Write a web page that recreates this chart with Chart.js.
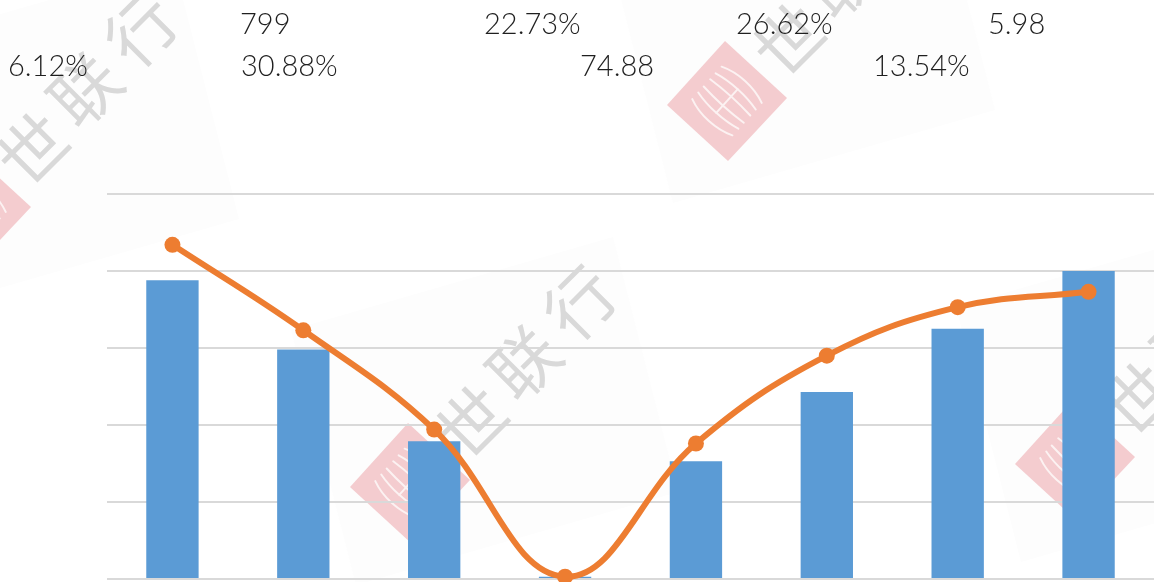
<!DOCTYPE html>
<html><head><meta charset="utf-8">
<style>html,body{margin:0;padding:0;background:#fff;overflow:hidden}#w{position:absolute;left:0;top:0;width:1154px;height:582px;overflow:hidden}</style>
<script src="https://cdn.jsdelivr.net/npm/chart.js@4"></script>
</head><body><div id="w"><canvas id="c" style="display:block" width="1162" height="587"></canvas></div>
<script>
const categories = ['1','2','3','4','5','6','7','8'];
const barValues = [3.88,2.98,1.79,0.03,1.53,2.43,3.25,4.0];
const lineValues = [4.34,3.23,1.94,0.03,1.76,2.90,3.53,3.73];
const topLabels = ['799','22.73%','26.62%','5.98','6.12%','30.88%','74.88','13.54%'];
const topLabelSpots = [[240,34],[484,34],[736,34],[988,34],[8,76],[241,76],[580,76],[873,76]];
const watermarkChars = ['世','联','行'];
const watermarkCharOffsets = [[62,-61],[114,-120],[170,-180]];
const watermarkCenters = [[-29,210],[410,483],[727,101],[1075,460]];

const watermark = {
  id:'watermark',
  beforeDraw(chart){
    const ctx = chart.ctx;
    ctx.save();
    ctx.fillStyle='#fff';ctx.fillRect(0,0,chart.width,chart.height);
    for(const [cx,cy] of watermarkCenters){
      ctx.save();ctx.translate(cx,cy);
      ctx.fillStyle='#fdfdfd';
      ctx.beginPath();ctx.moveTo(-54,102);ctx.lineTo(268,9);ctx.lineTo(203,-246);ctx.lineTo(-119,-153);ctx.closePath();ctx.fill();
      ctx.fillStyle='#f4cccf';
      ctx.beginPath();ctx.moveTo(-60,4);ctx.lineTo(-2,-60);ctx.lineTo(60,-3);ctx.lineTo(1,60);ctx.closePath();ctx.fill();
      ctx.save();ctx.rotate(Math.PI/4-0.05);
      ctx.strokeStyle='#fcf2f2';ctx.lineWidth=2;ctx.lineCap='round';
      for(const ry of [27,16,6]){
        ctx.beginPath();ctx.ellipse(0,0,46,ry,0,Math.PI*1.3,Math.PI*1.7);ctx.stroke();
        ctx.beginPath();ctx.ellipse(0,0,46,ry,0,Math.PI*0.3,Math.PI*0.7);ctx.stroke();
      }
      ctx.beginPath();ctx.moveTo(0,-16);ctx.lineTo(0,16);ctx.stroke();
      ctx.restore();
      ctx.fillStyle='#d9d9d9';
      ctx.font='400 68px "Noto Sans CJK SC"';ctx.textAlign='center';ctx.textBaseline='middle';
      watermarkChars.forEach((ch,i)=>{
        ctx.save();ctx.translate(watermarkCharOffsets[i][0],watermarkCharOffsets[i][1]);ctx.rotate(-Math.PI/4);ctx.fillText(ch,0,0);ctx.restore();
      });
      ctx.restore();
    }
    ctx.restore();
  }
};
const floatingLabels = {
  id:'floatingLabels',
  afterDraw(chart){
    const ctx=chart.ctx;ctx.save();
    ctx.fillStyle='#1f1f1f';ctx.font='300 29px Lato';ctx.textAlign='left';ctx.textBaseline='alphabetic';
    topLabels.forEach((t,i)=>ctx.fillText(t,topLabelSpots[i][0],topLabelSpots[i][1]));
    ctx.restore();
  }
};
new Chart(document.getElementById('c'),{
  data:{labels:categories,datasets:[
    {type:'line',data:lineValues,borderColor:'#ED7D31',backgroundColor:'#ED7D31',borderWidth:6,tension:0.4,pointRadius:8,pointHoverRadius:8,pointBorderWidth:0,clip:false,order:1},
    {type:'bar',data:barValues,backgroundColor:'#5B9BD5',barPercentage:0.4,categoryPercentage:1,order:2}
  ]},
  options:{responsive:false,animation:false,
    layout:{padding:{left:107,right:0,top:194,bottom:3}},
    plugins:{legend:{display:false},title:{display:false},tooltip:{enabled:false}},
    scales:{
      x:{display:false,offset:true},
      y:{min:0,max:5,ticks:{display:false,stepSize:1},grid:{color:'#d9d9d9',lineWidth:2,drawTicks:false},border:{display:false}}
    }
  },
  plugins:[watermark,floatingLabels]
});
</script></body></html>
